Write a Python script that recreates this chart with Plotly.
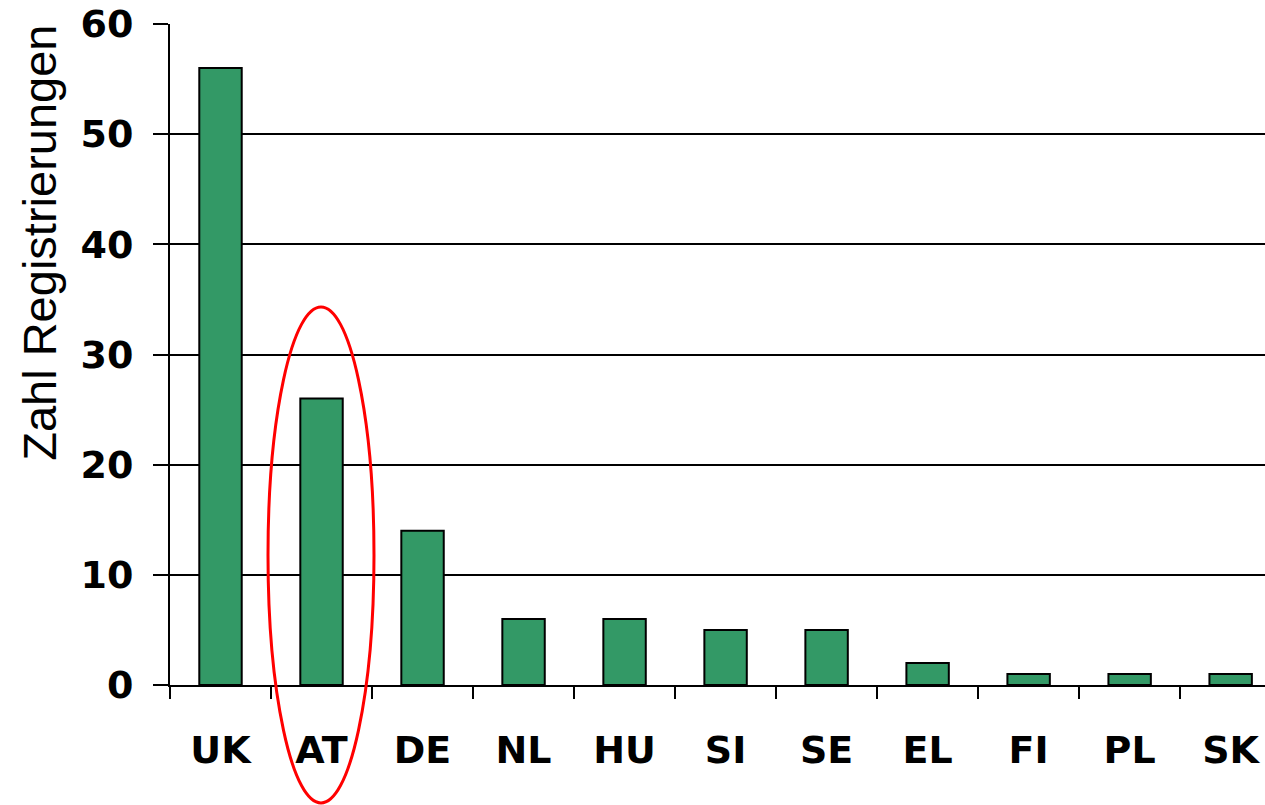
import plotly.graph_objects as go

# Registrations per country
countries = ["UK", "AT", "DE", "NL", "HU", "SI", "SE", "EL", "FI", "PL", "SK"]
registrations = [56, 26, 14, 6, 6, 5, 5, 2, 1, 1, 1]
y_ticks = [0, 10, 20, 30, 40, 50, 60]

BAR_GREEN = "#339966"
TICK_FONT = dict(family="DejaVu Sans", size=38, color="black")

fig = go.Figure()
fig.add_trace(go.Bar(
    x=countries, y=registrations, width=0.42,
    marker=dict(color=BAR_GREEN, line=dict(color="black", width=2)),
))

fig.update_layout(
    width=1265, height=805,
    paper_bgcolor="white", plot_bgcolor="white",
    margin=dict(l=170, r=0, t=24, b=120),
    showlegend=False,
    font=dict(family="DejaVu Sans", color="black"),
)

fig.update_yaxes(
    range=[0, 60], tickvals=y_ticks,
    showgrid=True, gridcolor="black", gridwidth=2,
    showline=True, linecolor="black", linewidth=2,
    ticks="outside", ticklen=15, tickwidth=2, tickcolor="black",
    tickfont=dict(TICK_FONT, weight="bold"), ticklabelstandoff=12,
    zeroline=False,
)
# last category is cut at the right edge in the original
fig.update_xaxes(
    type="category", tickson="boundaries", range=[-0.5, 10.34],
    showline=True, linecolor="black", linewidth=2,
    ticks="outside", ticklen=12, tickwidth=2, tickcolor="black",
    tickfont=dict(TICK_FONT, weight="bold"), ticklabelstandoff=30,
    showgrid=False,
)

# y-axis title placed like the original (above centre of the axis)
fig.add_annotation(
    text="Zahl Registrierungen", textangle=-90,
    xref="paper", yref="paper", x=-0.1187, y=0.669,
    xanchor="center", yanchor="middle", showarrow=False,
    font=dict(family="Liberation Sans", size=47, color="black"),
)

# red ellipse around AT
fig.add_shape(
    type="circle", xref="paper", yref="paper",
    x0=0.0895, x1=0.1863, y0=-0.1785, y1=0.5719,
    line=dict(color="red", width=3),
)

fig.write_html(
    "out.html",
    config={"displayModeBar": False},
    post_script="document.body.style.margin='0';",
)
